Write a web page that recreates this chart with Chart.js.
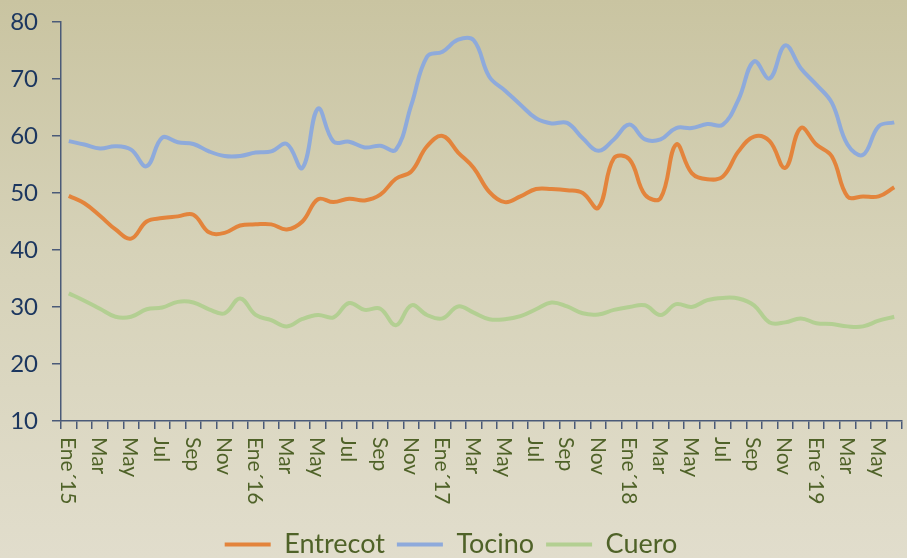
<!DOCTYPE html>
<html>
<head>
<meta charset="utf-8">
<script src="https://cdn.jsdelivr.net/npm/chart.js@4.4.0/dist/chart.umd.min.js"></script>
<style>
  html, body { margin:0; padding:0; }
  body {
    width:907px; height:558px; overflow:hidden;
    background: linear-gradient(to bottom, #c9c4a1 0%, #d6d2b8 45%, #e1ddcc 100%);
  }
  #wrap { position:relative; width:907px; height:558px; }
</style>
</head>
<body>
<div id="wrap"><canvas id="grafico"></canvas></div>
<script>
// meses (solo se rotulan los impares)
const etiquetas = [
  "Ene´15","","Mar","","May","","Jul","","Sep","","Nov","",
  "Ene´16","","Mar","","May","","Jul","","Sep","","Nov","",
  "Ene´17","","Mar","","May","","Jul","","Sep","","Nov","",
  "Ene´18","","Mar","","May","","Jul","","Sep","","Nov","",
  "Ene´19","","Mar","","May",""
];

const entrecot = [49.5, 48.2, 46.0, 43.6, 42.0, 45.0, 45.6, 45.9, 46.2, 43.1, 43.0, 44.3,
  44.5, 44.5, 43.6, 45.0, 48.9, 48.4, 49.0, 48.7, 49.7, 52.5, 53.8, 58.2,
  60.0, 57.1, 54.4, 50.2, 48.4, 49.4, 50.7, 50.7, 50.5, 50.0, 47.4, 56.1,
  55.9, 49.7, 49.1, 58.5, 53.5, 52.4, 52.9, 57.3, 59.9, 59.1, 54.4, 61.4,
  58.5, 56.4, 49.4, 49.4, 49.4, 51.0];

const tocino = [59.1, 58.5, 57.8, 58.2, 57.6, 54.7, 59.7, 58.9, 58.6, 57.3, 56.5, 56.5,
  57.1, 57.3, 58.6, 54.4, 64.8, 59.0, 59.0, 58.0, 58.3, 57.6, 65.5, 73.9,
  74.8, 76.9, 76.8, 70.4, 68.0, 65.5, 63.1, 62.2, 62.3, 59.6, 57.4, 59.4,
  62.0, 59.4, 59.4, 61.4, 61.4, 62.1, 62.0, 66.4, 73.1, 70.1, 75.9, 71.9,
  69.0, 65.8, 58.5, 56.7, 61.7, 62.4];

const cuero = [32.4, 31.1, 29.7, 28.3, 28.3, 29.6, 29.9, 30.9, 30.8, 29.6, 28.9, 31.5,
  28.6, 27.7, 26.6, 27.9, 28.6, 28.2, 30.7, 29.5, 29.7, 26.8, 30.3, 28.6,
  28.0, 30.1, 29.0, 27.85, 27.85, 28.4, 29.6, 30.8, 30.1, 28.9, 28.7, 29.5,
  30.0, 30.3, 28.6, 30.5, 30.0, 31.2, 31.6, 31.5, 30.3, 27.3, 27.3, 28.0,
  27.15, 27.0, 26.6, 26.6, 27.6, 28.3];

const ejeY = { min: 10, max: 80, paso: 10 };

const FUENTE = "Lato, 'Open Sans', sans-serif";
const COLOR_EJE = "#4a5a78";

/* =========================
   ROTULOS X (giro horario)
========================= */
const rotulosX = {
  id: "rotulosX",
  afterDraw(chart){
    const esc = chart.scales.x;
    const ctx = chart.ctx;
    ctx.save();
    ctx.fillStyle = "#4f6228";
    ctx.font = "21px " + FUENTE;
    ctx.textAlign = "left";
    ctx.textBaseline = "middle";
    etiquetas.forEach((t, i) => {
      if(!t) return;
      const x = esc.getPixelForValue(i);
      ctx.save();
      ctx.translate(x - 1, esc.top + 16);
      ctx.rotate(Math.PI / 2);
      ctx.fillText(t, 0, 0);
      ctx.restore();
    });
    ctx.restore();
  }
};

const serie = (nombre, datos, color) => ({
  label: nombre,
  data: datos,
  borderColor: color,
  backgroundColor: color,
  borderWidth: 4,
  pointRadius: 0,
  tension: 0.4,
  fill: false
});

new Chart(document.getElementById("grafico"), {
  type: "line",
  data: {
    labels: etiquetas,
    datasets: [
      serie("Entrecot", entrecot, "#e3843c"),
      serie("Tocino", tocino, "#8eaadb"),
      serie("Cuero", cuero, "#b3cf92")
    ]
  },
  options: {
    responsive: true,
    maintainAspectRatio: false,
    animation: false,
    layout: { padding: { top: 22, right: 5, left: 0, bottom: -10 } },
    plugins: {
      tooltip: { enabled: false },
      legend: {
        position: "bottom",
        labels: {
          color: "#4f6228",
          font: { family: FUENTE, size: 27 },
          boxWidth: 46,
          boxHeight: 4,
          padding: 12,
          generateLabels(chart){
            return Chart.defaults.plugins.legend.labels.generateLabels(chart)
              .map(l => ({ ...l, lineWidth: 0 }));
          }
        }
      }
    },
    scales: {
      x: {
        offset: true,
        grid: {
          offset: true,
          drawOnChartArea: false,
          drawTicks: true,
          tickLength: 8,
          color: COLOR_EJE,
          lineWidth: 1.5
        },
        border: { color: COLOR_EJE, width: 1.5 },
        ticks: {
          autoSkip: false,
          maxRotation: 0,
          color: "transparent",
          font: { size: 1 }
        },
        afterFit(s){ s.height = 98; }
      },
      y: {
        min: ejeY.min,
        max: ejeY.max,
        grid: {
          drawOnChartArea: false,
          tickLength: 9,
          color: COLOR_EJE,
          lineWidth: 1.5
        },
        border: { color: COLOR_EJE, width: 1.5 },
        ticks: {
          stepSize: ejeY.paso,
          color: "#1b365f",
          padding: 14,
          font: { family: FUENTE, size: 24 }
        },
        afterFit(s){
          s.width = 61;
          s.paddingTop = 12;
          s.paddingBottom = 12;
        }
      }
    }
  },
  plugins: [rotulosX]
});
</script>
</body>
</html>
